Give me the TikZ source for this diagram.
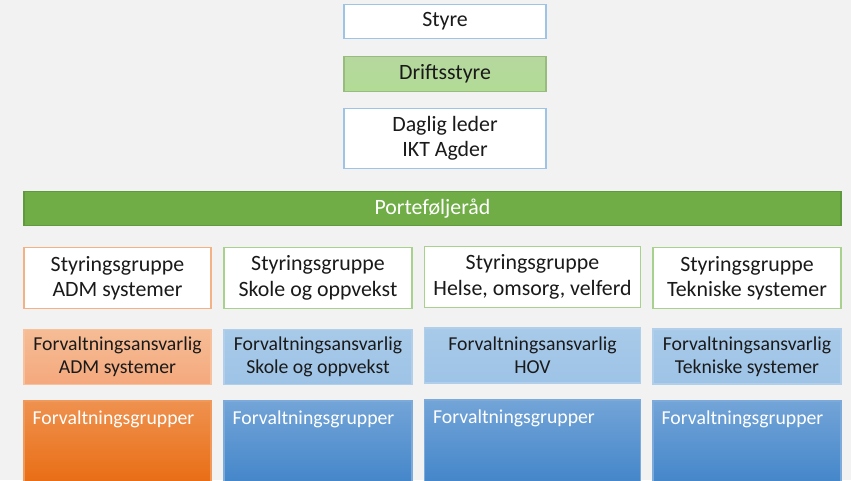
\documentclass[tikz,border=0pt]{standalone}
\usepackage{fontspec}
\setmainfont{Carlito}
\usepackage{xcolor}
\usepackage{tikz}
\usetikzlibrary{positioning}

\definecolor{bggray}{HTML}{F2F2F2}
\definecolor{lineblue}{HTML}{9DC3E6}
\definecolor{linegreen}{HTML}{A9D18E}
\definecolor{lineorange}{HTML}{F4B183}
\definecolor{portgreen}{HTML}{70AD47}
\definecolor{portedge}{HTML}{5F9A3C}
\definecolor{txtdark}{HTML}{1A1A1A}

\begin{document}
\begin{tikzpicture}[
  x=0.75pt, y=-0.75pt,
  box/.style={draw, minimum height=#1*0.75pt, inner sep=2pt, align=center,
              line width=0.9pt, text=txtdark,
              font=\fontsize{16.4}{19}\selectfont},
  box/.default=34,
  wide/.style={minimum width=#1*0.75pt},
  topbox/.style={box=#1, draw=lineblue, fill=white},
  sgbox/.style={box=61, draw=linegreen, fill=white},
  fabox/.style={box=55, draw=lineblue!80, top color=lineblue!88, bottom color=lineblue!100!black,
                font=\fontsize{14.8}{17.4}\selectfont},
  fgbox/.style={box=82, draw=#1!70!white, top color=#1!75!white, bottom color=#1},
  fgtext/.style={anchor=base west, xshift=9*0.75pt, yshift=-24*0.75pt, text=white,
                 inner sep=0pt, font=\fontsize{14.8}{17.4}\selectfont}
]
  \fill[bggray] (0,0) rectangle (851,480);
  \useasboundingbox (0,0) rectangle (851,480);

  % top of the organisation
  \node[topbox=34, wide=202] (styre) at (445,21.5) {Styre};
  \node[box=35, wide=202, draw=linegreen!90!black, top color=linegreen!85, bottom color=linegreen!105!black]
    (drift) at (445,74) {Driftsstyre};
  \node[topbox=60, wide=202] (leder) at (445,138.5) {Daglig leder\\IKT Agder};
  \node[box=34, wide=817, draw=portedge, fill=portgreen, text=white]
    (portef) at (432.5,208.5) {Porteføljeråd};

  % styringsgrupper
  \node[sgbox, wide=187, draw=lineorange] (sgadm) at (117.5,278) {Styringsgruppe\\ADM systemer};
  \node[sgbox, wide=188] (sgskole) at (318,278) {Styringsgruppe\\Skole og oppvekst};
  \node[sgbox, wide=216] (sghov) at (532.5,277) {Styringsgruppe\\Helse, omsorg, velferd};
  \node[sgbox, wide=188] (sgtek) at (747,278) {Styringsgruppe\\Tekniske systemer};

  % forvaltningsansvarlige
  \node[fabox, wide=187, draw=lineorange!80, top color=lineorange!85, bottom color=lineorange!95!red]
    (faadm) at (117.5,357) {Forvaltningsansvarlig\\ADM systemer};
  \node[fabox, wide=188] (faskole) at (318,357) {Forvaltningsansvarlig\\Skole og oppvekst};
  \node[fabox, wide=216] (fahov) at (532.5,355.5) {Forvaltningsansvarlig\\HOV};
  \node[fabox, wide=188] (fatek) at (747,356.5) {Forvaltningsansvarlig\\Tekniske systemer};

  % forvaltningsgrupper
  \definecolor{fgorange}{HTML}{E96D14}
  \definecolor{fgblue}{HTML}{4486CA}
  \node[fgbox=fgorange, wide=187, label={[fgtext]north west:Forvaltningsgrupper}] (fgadm) at (117.5,442) {};
  \node[fgbox=fgblue, wide=188, label={[fgtext]north west:Forvaltningsgrupper}] (fgskole) at (318,442) {};
  \node[fgbox=fgblue, wide=216, label={[fgtext]north west:Forvaltningsgrupper}] (fghov) at (532.5,441) {};
  \node[fgbox=fgblue, wide=188, label={[fgtext]north west:Forvaltningsgrupper}] (fgtek) at (747,442) {};
\end{tikzpicture}
\end{document}
